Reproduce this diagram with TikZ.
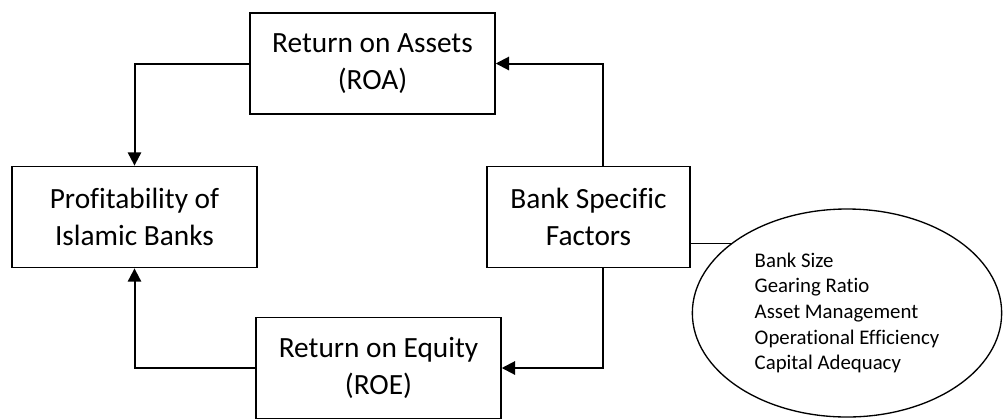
\documentclass[tikz,border=0pt]{standalone}
\usepackage{fontspec}
\setmainfont{Carlito}[Ligatures={NoCommon}]
\usetikzlibrary{arrows.meta,shapes.geometric}
\begin{document}
\begin{tikzpicture}[x=0.75pt, y=-0.75pt,
  box/.style={draw, line width=1.1pt, inner sep=0pt, minimum width=183.75pt, minimum height=76pt, align=center, font=\fontsize{22}{27.75}\selectfont},
  link/.style={line width=1.5pt, -{Triangle[length=10pt, width=10pt]}}]
\useasboundingbox (0,0) rectangle (1003,419);
\node[box] (roa) at (372.5, 63.5) {Return on Assets\\(ROA)};
\node[box] (prof) at (134.5, 217) {Profitability of\\Islamic Banks};
\node[box, minimum width=152.5pt] (bank) at (588.5, 217) {Bank Specific\\Factors};
\node[box] (roe) at (378.5, 368) {Return on Equity\\(ROE)};
\node[draw, ellipse, line width=1pt, inner sep=0pt, minimum width=232pt, minimum height=156pt, align=left, font=\fontsize{15.6}{19.2}\selectfont] (facts) at (847, 313) {Bank Size\\Gearing Ratio\\Asset Management\\Operational Efficiency\\Capital Adequacy};

\draw[link] (roa.west) -| (prof.north);
\draw[link] ([xshift=10.5pt]bank.north) |- (roa.east);
\draw[link] ([xshift=10.5pt]bank.south) |- (roe.east);
\draw[link] (roe.west) -| (prof.south);
\draw[line width=0.8pt] (bank.east |- facts.149) -- (facts.149);
\end{tikzpicture}
\end{document}
